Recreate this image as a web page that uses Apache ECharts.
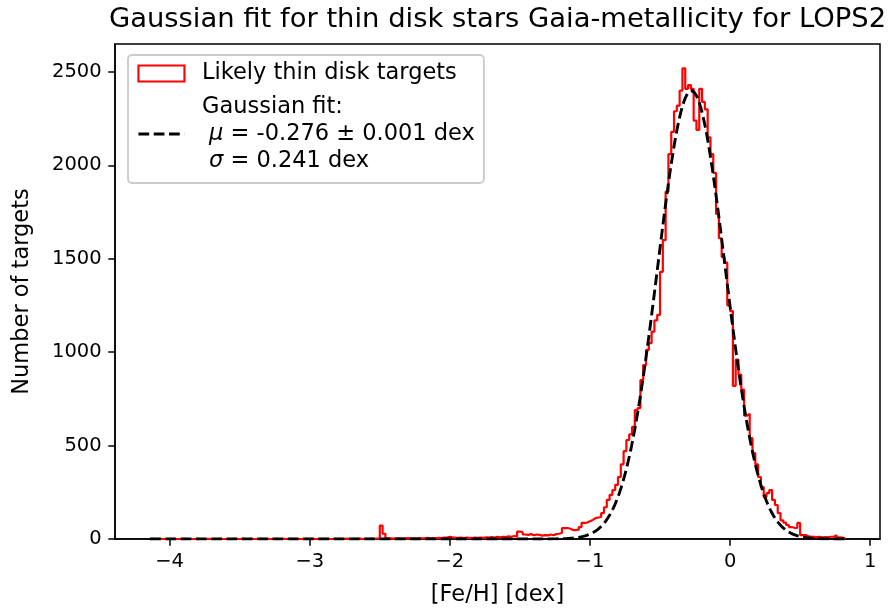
<!DOCTYPE html>
<html><head><meta charset="utf-8">
<script src="https://cdn.jsdelivr.net/npm/echarts@6/dist/echarts.min.js"></script>
<style>html,body{margin:0;padding:0;background:#fff}#c{width:888px;height:612px}</style>
</head><body><div id="c"></div>
<script>
const titleText = 'Gaussian fit for thin disk stars Gaia-metallicity for LOPS2';
const xAxisName = '[Fe/H] [dex]';
const yAxisName = 'Number of targets';
const histName = 'Likely thin disk targets';
const fitName = 'Gaussian fit';
const xTicks = [-4, -3, -2, -1, 0, 1];
const yTicks = [0, 500, 1000, 1500, 2000, 2500];
const binWidth = 0.02;

// far tail, bins starting at -4.14
const tailAStart = -4.14;
const tailACounts = [
  1,0,0,1,0,0,0,1,0,0,
  0,1,0,0,0,0,1,0,0,0,
  1,0,0,0,1,0,0,0,0,1,
  0,0,1,0,0,1,0,0,0,1,
  0,1,0,0,1,0,0,1,0,0,
  1,0,1,0,0,1,0,1,0,0,
  1,0,1,1,0,1,0,1,0,2,
  1,0,1,1,2,0,1,1,2,1,
  2
];
// low tail incl. spike, bins starting at -2.52
const tailBStart = -2.52;
const tailBCounts = [
  3,72,28,
  4,3,2,3,4,2,3,5,3,4,
  2,5,3,4,6,3,5,4,6,5,
  7,8,12,9,7,6,8,5,7,6,
  5,7,6,8,6,9,7,10,8,11,
  9,12,10,
  14,12,16,13,40,36,24,22,26,20,
  24,22,18,21,19,24,20,26,28,32
];
// core, bins starting at -1.20
const coreStart = -1.20;
const coreCounts = [
  58,59,55,48,48,50,64,86,88,95,
  102,112,115,118,139,170,209,236,262,290,
  332,400,470,530,560,600,690,701,851,931,
  1012,1049,1110,1170,1200,1430,1600,1860,2060,2180,
  2290,2320,2400,2520,2410,2430,2410,2240,2190,2410,
  2340,2300,2150,2060,1960,1740,1610,1510,1480,1250,
  1220,820,960,880,800,660,670,540,460,400,
  332,278,225,246,262,209,182,139,100,88,
  75,64,60,59,86,21,21,14,11,11,
  10,11,9,10,9,12,12,20,9,8,4
];

// Gaussian fit parameters (from legend)
const fitMu = -0.276;
const fitMuErr = 0.001;
const fitSigma = 0.241;
const fitAmp = 2400;
const fitRange = [-4.14, 0.82];

function r3(v) { return Math.round(v * 1000) / 1000; }

const bins = [];
[[tailAStart, tailACounts], [tailBStart, tailBCounts], [coreStart, coreCounts]].forEach(([s, arr]) => {
  arr.forEach((c, i) => bins.push([r3(s + i * binWidth), c]));
});
const histPoints = [[bins[0][0], 0]];
bins.forEach(b => histPoints.push(b));
const lastEdge = r3(bins[bins.length - 1][0] + binWidth);
histPoints.push([lastEdge, bins[bins.length - 1][1]]);
histPoints.push([lastEdge, 0]);

const fitPoints = [];
const nFit = 1000;
for (let i = 0; i <= nFit; i++) {
  const x = fitRange[0] + (fitRange[1] - fitRange[0]) * i / nFit;
  fitPoints.push([x, fitAmp * Math.exp(-((x - fitMu) ** 2) / (2 * fitSigma * fitSigma))]);
}

const FF = 'DejaVu Sans';
const chart = echarts.init(document.getElementById('c'), null, {renderer: 'canvas'});
chart.setOption({
  animation: false,
  backgroundColor: '#fff',
  title: {
    text: titleText, left: 497.5, top: 6, textAlign: 'center', padding: 0,
    textStyle: {fontFamily: FF, fontSize: 27.4, fontWeight: 'normal', color: '#000'}
  },
  legend: {
    left: 128, top: 55, orient: 'vertical', align: 'left',
    padding: [5, 9, 8.5, 9],
    itemWidth: 46, itemHeight: 16, itemGap: 6.5,
    backgroundColor: '#fff', borderColor: '#cccccc', borderWidth: 1.9, borderRadius: 4,
    selectedMode: false,
    textStyle: {
      fontFamily: FF, fontSize: 22.5, color: '#000', lineHeight: 27,
      rich: {
        g: {width: 12.5, lineHeight: 27},
        i: {fontStyle: 'italic', fontFamily: FF, fontSize: 22.5, color: '#000', lineHeight: 27}
      }
    },
    formatter: function (name) {
      if (name === fitName) {
        return '{g|}' + fitName + ':\n{g|} {i|\u03bc} = ' + fitMu.toFixed(3) + ' \u00b1 ' + fitMuErr.toFixed(3) +
          ' dex\n{g|} {i|\u03c3} = ' + fitSigma.toFixed(3) + ' dex';
      }
      return '{g|}' + name;
    },
    data: [
      {name: histName, icon: 'rect', itemStyle: {color: 'rgba(0,0,0,0)', borderColor: '#ff0000', borderWidth: 2.1}},
      {name: fitName, lineStyle: {color: '#000', width: 2.9, type: [10.7, 4.6]},
        itemStyle: {color: 'rgba(0,0,0,0)', borderColor: 'rgba(0,0,0,0)', borderWidth: 0, opacity: 0}}
    ]
  },
  grid: {left: 115, right: 8, top: 44, bottom: 73, show: true, borderColor: '#000', borderWidth: 1.5, backgroundColor: 'transparent'},
  xAxis: {
    type: 'value', min: -4.39, max: 1.07,
    name: xAxisName, nameLocation: 'middle', nameGap: 44.5,
    nameTextStyle: {fontFamily: FF, fontSize: 22.5, color: '#000'},
    axisLine: {show: true, onZero: false, lineStyle: {color: '#000', width: 1.5}},
    axisTick: {show: true, inside: false, length: 6.7, lineStyle: {color: '#000', width: 1.5}, customValues: xTicks},
    axisLabel: {show: true, margin: 13.4, fontFamily: FF, fontSize: 19.5, color: '#000', customValues: xTicks,
      formatter: v => (v < 0 ? '\u2212' + Math.abs(v) : String(v))},
    splitLine: {show: false}
  },
  yAxis: {
    type: 'value', min: 0, max: 2650,
    name: yAxisName, nameLocation: 'middle', nameGap: 81.5, nameRotate: 90,
    nameTextStyle: {fontFamily: FF, fontSize: 22.5, color: '#000'},
    axisLine: {show: true, onZero: false, lineStyle: {color: '#000', width: 1.5}},
    axisTick: {show: true, inside: false, length: 6.7, lineStyle: {color: '#000', width: 1.5}, customValues: yTicks},
    axisLabel: {show: true, margin: 13.4, fontFamily: FF, fontSize: 19.5, color: '#000', customValues: yTicks,
      formatter: v => String(v)},
    splitLine: {show: false}
  },
  series: [
    {name: histName, type: 'line', step: 'end', data: histPoints, symbol: 'none', showSymbol: false,
      lineStyle: {color: '#ff0000', width: 2.2}, itemStyle: {color: '#ff0000'}, z: 2, silent: true},
    {name: fitName, type: 'line', data: fitPoints, symbol: 'none', showSymbol: false,
      lineStyle: {color: '#000', width: 2.9, type: [10.7, 4.6]}, itemStyle: {color: '#000'}, z: 3, silent: true}
  ]
});
</script>
</body></html>
